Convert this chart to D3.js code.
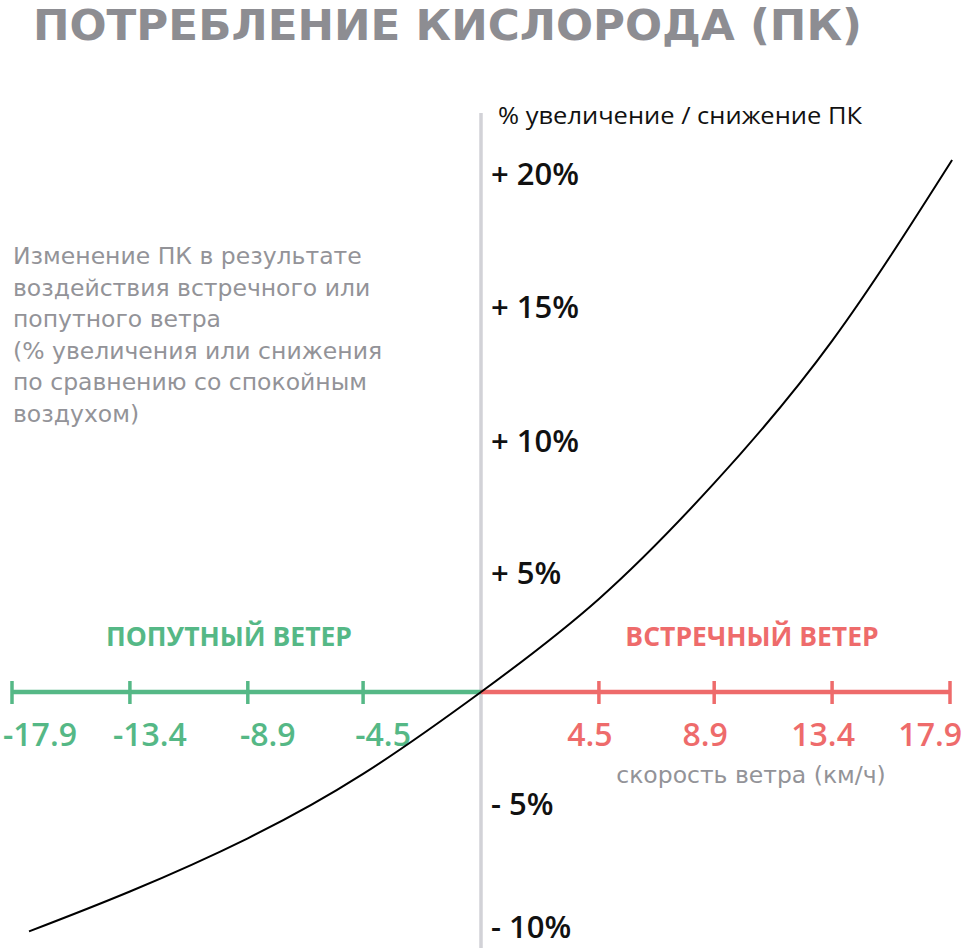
<!DOCTYPE html>
<html lang="ru">
<head>
<meta charset="UTF-8">
<title>Потребление кислорода</title>
<script src="https://d3js.org/d3.v7.min.js"></script>
<style>
  html, body { margin: 0; padding: 0; background: #fff; }
  svg { display: block; }
</style>
</head>
<body>
<div id="chart"></div>
<script>
// ветер, км/ч
const tailTicks = [-17.9, -13.4, -8.9, -4.5];
const headTicks = [4.5, 8.9, 13.4, 17.9];
// изменение ПК, %
const yTicks = [20, 15, 10, 5, -5, -10];
const yTickLabels = ['+ 20%', '+ 15%', '+ 10%', '+ 5%', '- 5%', '- 10%'];
// кривая
const windSpeed = [-17.25, -13.4, -8.9, -4.5, 0, 4.5, 8.9, 13.4, 17.98];
const pkChange = [-9.0, -7.5, -5.5, -3.08, 0, 3.5, 7.85, 13.2, 20.0];

const description = [
  'Изменение ПК в результате',
  'воздействия встречного или',
  'попутного ветра',
  '(% увеличения или снижения',
  'по сравнению со спокойным',
  'воздухом)'
];

const width = 968;
const height = 948;
const green = '#55b886';
const red = '#ee6b6b';
const grayText = '#939398';

const svg = d3.select('#chart')
  .append('svg')
  .attr('width', width)
  .attr('height', height);

const x = d3.scaleLinear()
  .domain([-17.9, 17.9])
  .range([12, 950]);

const y = d3.scaleLinear()
  .domain([0, 20])
  .range([692, 160]);

// подписи по оси ПК стоят неравномерно (особенно снизу), поэтому у них своя шкала
const yLabel = d3.scaleLinear()
  .domain([-10, -5, 0, 5, 10, 15, 20])
  .range([927, 804, 692, 573, 441, 307, 174]);

// заголовок
svg.append('text')
  .attr('x', 33)
  .attr('y', 40)
  .attr('textLength', 829)
  .attr('lengthAdjust', 'spacingAndGlyphs')
  .style('font-family', '"DejaVu Sans", sans-serif')
  .style('font-weight', 700)
  .style('font-size', '43px')
  .style('fill', '#8d8d92')
  .text('ПОТРЕБЛЕНИЕ КИСЛОРОДА (ПК)');

// вертикальная ось
svg.append('line')
  .attr('x1', x(0)).attr('x2', x(0))
  .attr('y1', 113).attr('y2', height)
  .attr('stroke', '#d2d2d7')
  .attr('stroke-width', 3.5);

svg.append('text')
  .attr('x', 498)
  .attr('y', 124)
  .attr('textLength', 364)
  .attr('lengthAdjust', 'spacingAndGlyphs')
  .style('font-family', '"Open Sans", sans-serif')
  .style('font-size', '24px')
  .style('fill', '#111')
  .text('% увеличение / снижение ПК');

svg.append('g')
  .selectAll('text')
  .data(yTicks)
  .join('text')
  .attr('x', 491)
  .attr('y', d => yLabel(d))
  .attr('dy', '0.36em')
  .style('font-family', '"Open Sans", sans-serif')
  .style('font-weight', 600)
  .style('font-size', '31px')
  .style('fill', '#111')
  .text((d, i) => yTickLabels[i]);

// описание слева
svg.append('g')
  .selectAll('text')
  .data(description)
  .join('text')
  .attr('x', 13)
  .attr('y', (d, i) => 264 + i * 31.5)
  .style('font-family', '"DejaVu Sans", sans-serif')
  .style('font-size', '23.5px')
  .style('fill', grayText)
  .text(d => d);

// горизонтальная ось: попутный / встречный ветер
function windAxis(ticks, from, color, labelDx) {
  const g = svg.append('g');
  g.append('line')
    .attr('x1', x(from)).attr('x2', x(0))
    .attr('y1', y(0)).attr('y2', y(0))
    .attr('stroke', color)
    .attr('stroke-width', 4.5);
  g.selectAll('line.tick')
    .data(ticks)
    .join('line')
    .attr('class', 'tick')
    .attr('x1', d => x(d)).attr('x2', d => x(d))
    .attr('y1', y(0) - 11).attr('y2', y(0) + 12)
    .attr('stroke', color)
    .attr('stroke-width', 3.5);
  g.selectAll('text')
    .data(ticks)
    .join('text')
    .attr('x', d => x(d) + labelDx)
    .attr('y', 746)
    .attr('text-anchor', 'middle')
    .style('font-family', '"Open Sans", sans-serif')
    .style('font-weight', 600)
    .style('font-size', '32px')
    .style('fill', color)
    .text(d => d < 0 ? '-' + Math.abs(d) : String(d))
    .each(function () {
      // крайние подписи не выходят за край
      const w = this.getComputedTextLength();
      const cx = +this.getAttribute('x');
      const clamped = Math.max(3 + w / 2, Math.min(width - 6 - w / 2, cx));
      this.setAttribute('x', clamped);
    });
  return g;
}

windAxis(tailTicks, -17.9, green, 20);
windAxis(headTicks, 17.9, red, -9);

svg.append('text')
  .attr('x', 229)
  .attr('y', 646)
  .attr('text-anchor', 'middle')
  .style('font-family', '"Open Sans", sans-serif')
  .style('font-weight', 700)
  .style('font-size', '26.5px')
  .style('fill', green)
  .text('ПОПУТНЫЙ ВЕТЕР');

svg.append('text')
  .attr('x', 752)
  .attr('y', 646)
  .attr('text-anchor', 'middle')
  .style('font-family', '"Open Sans", sans-serif')
  .style('font-weight', 700)
  .style('font-size', '26.5px')
  .style('fill', red)
  .text('ВСТРЕЧНЫЙ ВЕТЕР');

svg.append('text')
  .attr('x', 751)
  .attr('y', 783)
  .attr('text-anchor', 'middle')
  .style('font-family', '"DejaVu Sans", sans-serif')
  .style('font-size', '23.5px')
  .style('fill', grayText)
  .text('скорость ветра (км/ч)');

// кривая ПК
const points = windSpeed.map((v, i) => [v, pkChange[i]]);
const line = d3.line()
  .x(d => x(d[0]))
  .y(d => y(d[1]))
  .curve(d3.curveNatural);

svg.append('path')
  .datum(points)
  .attr('d', line)
  .attr('fill', 'none')
  .attr('stroke', '#000')
  .attr('stroke-width', 2);
</script>
</body>
</html>
